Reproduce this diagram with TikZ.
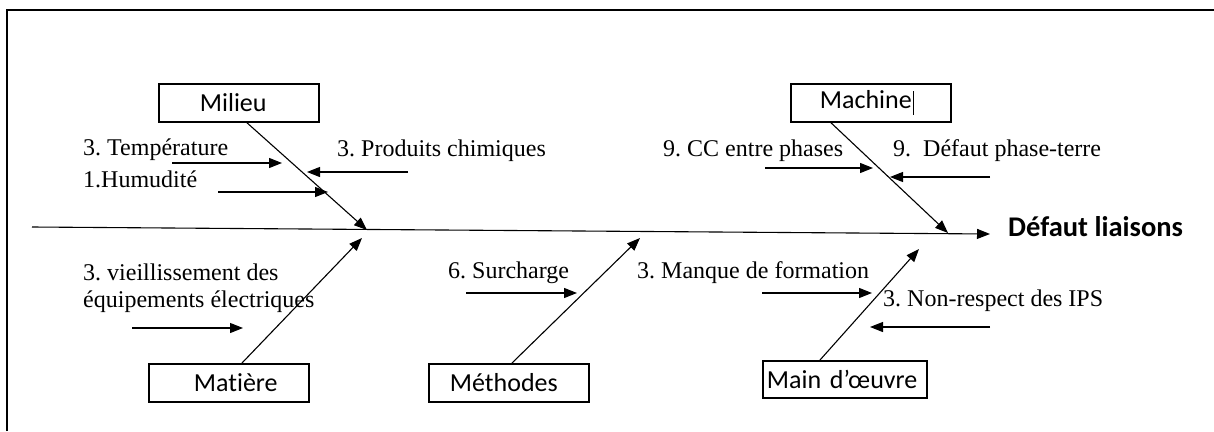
\documentclass[tikz,border=0pt]{standalone}
\usepackage{fontspec}
\setmainfont{Liberation Serif}
\newfontfamily\boxfont[Ligatures={NoCommon}]{Carlito}
\usetikzlibrary{arrows.meta}
\frenchspacing
\begin{document}
\begin{tikzpicture}[x=1pt,y=-1pt,
  tip/.style={-{Triangle[length=13pt,width=10pt]}},
  spine/.style={tip, line width=1.1pt},
  bone/.style={tip, line width=1.1pt},
  cause/.style={tip, line width=1.1pt},
  catbox/.style={draw, line width=1.8pt, minimum height=38pt, inner xsep=0pt,
    inner ysep=0pt, align=left, anchor=north west,
    font=\boxfont\fontsize{26}{30}\selectfont},
  lbl/.style={anchor=west, inner sep=0pt, align=left,
    font=\fontsize{24}{27}\selectfont},
  effectlbl/.style={anchor=west, inner sep=0pt,
    font=\boxfont\bfseries\fontsize{28.5}{32}\selectfont}
]
\useasboundingbox (0,0) rectangle (1214,431);

% frame
\draw[line width=2pt] (7,431) -- (7,10) -- (1214,10);

% spine and effect
\coordinate (tail) at (32,227);
\coordinate (head) at (990,234);
\draw[spine] (tail) -- (head);
\node[effectlbl] (effect) at (1008,227) {Défaut liaisons};

% category boxes
\node[catbox, text width=160pt] (milieu) at (158,83) {\hspace*{41pt}Milieu};
\node[catbox, text width=160pt] (machine) at (790,83)
  {\hspace*{29pt}Machine\kern1pt\rule[-6pt]{0.8pt}{24pt}};
\node[catbox, text width=160pt] (matiere) at (148,363) {\hspace*{45pt}Matière};
\node[catbox, text width=160pt] (methodes) at (428,363) {\hspace*{21pt}Méthodes};
\node[catbox, text width=164pt, minimum height=37pt] (maindoeuvre) at (762,360)
  {\hspace*{4pt}Main d’œuvre};

% bone ends on the spine
\coordinate (jmilieu) at (367,230);
\coordinate (jmachine) at (948,233);
\coordinate (jmatiere) at (362,238);
\coordinate (jmethodes) at (640,238);
\coordinate (jmain) at (919,249);

\draw[bone] ([xshift=89pt]milieu.south west) -- (jmilieu);
\draw[bone] ([xshift=41pt]machine.south west) -- (jmachine);
\draw[bone] ([xshift=94pt]matiere.north west) -- (jmatiere);
\draw[bone] ([xshift=84pt]methodes.north west) -- (jmethodes);
\draw[bone] ([xshift=58pt]maindoeuvre.north west) -- (jmain);

% causes
\node[lbl] (ltemp) at (83,150) {3. Température};
\coordinate (temp0) at (172,163); \coordinate (temp1) at (282,163);
\draw[cause] (temp0) -- (temp1);

\node[lbl] (lhum) at (83,179) {1.Humudité};
\coordinate (hum0) at (218,192); \coordinate (hum1) at (328,192);
\draw[cause] (hum0) -- (hum1);

\node[lbl] (lprod) at (337,151) {3. Produits chimiques};
\coordinate (prod0) at (408,172); \coordinate (prod1) at (307,172);
\draw[cause] (prod0) -- (prod1);

\node[lbl] (lcc) at (663,151) {9. CC entre phases};
\coordinate (cc0) at (765,168); \coordinate (cc1) at (873,168);
\draw[cause] (cc0) -- (cc1);

\node[lbl] (lpt) at (893,151) {9.\ \ Défaut phase-terre};
\coordinate (pt0) at (990,177); \coordinate (pt1) at (890,177);
\draw[cause] (pt0) -- (pt1);

\node[lbl] (lvie) at (83,288.5) {3. vieillissement des\\équipements électriques};
\coordinate (vie0) at (132,328); \coordinate (vie1) at (243,328);
\draw[cause] (vie0) -- (vie1);

\node[lbl] (lsur) at (448,273) {6. Surcharge};
\coordinate (sur0) at (466,293); \coordinate (sur1) at (577,293);
\draw[cause] (sur0) -- (sur1);

\node[lbl] (lman) at (637,273) {3. Manque de formation};
\coordinate (man0) at (762,293); \coordinate (man1) at (872,293);
\draw[cause] (man0) -- (man1);

\node[lbl] (lips) at (883,301) {3. Non-respect des IPS};
\coordinate (ips0) at (990,327); \coordinate (ips1) at (870,327);
\draw[cause] (ips0) -- (ips1);
\end{tikzpicture}
\end{document}
